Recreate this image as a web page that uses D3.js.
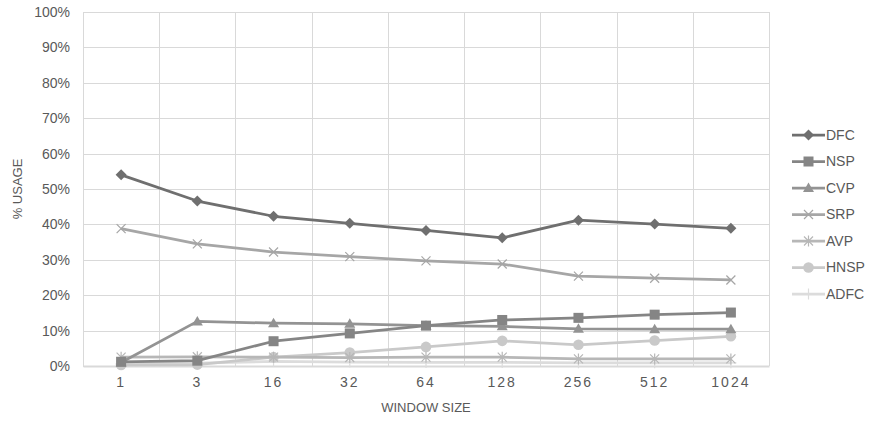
<!DOCTYPE html>
<html>
<head>
<meta charset="utf-8">
<script src="https://cdn.jsdelivr.net/npm/d3@7"></script>
<style>
  html, body { margin: 0; padding: 0; background: #fff; }
  svg { display: block; font-family: "Liberation Sans", Arial, sans-serif; }
</style>
</head>
<body>
<svg id="chart" width="874" height="423"></svg>
<script>
// Window sizes along the x axis
const windowSizes = ["1", "3", "16", "32", "64", "128", "256", "512", "1024"];
// Y axis ticks (percent)
const yTicks = [0, 10, 20, 30, 40, 50, 60, 70, 80, 90, 100];

// Usage per technique, in percent
const dfc  = [54.0, 46.6, 42.3, 40.3, 38.3, 36.2, 41.2, 40.1, 38.9];
const nsp  = [1.2, 1.5, 7.0, 9.2, 11.4, 13.0, 13.6, 14.5, 15.1];
const cvp  = [1.0, 12.6, 12.1, 11.9, 11.4, 11.2, 10.5, 10.4, 10.4];
const srp  = [38.8, 34.5, 32.2, 30.9, 29.7, 28.8, 25.4, 24.8, 24.3];
const avp  = [2.5, 2.6, 2.5, 2.4, 2.5, 2.5, 2.0, 2.0, 2.0];
const hnsp = [0.3, 0.4, 2.5, 3.8, 5.4, 7.1, 6.0, 7.2, 8.4];
const adfc = [0.6, 0.8, 1.3, 1.1, 1.0, 1.0, 0.9, 0.9, 0.9];

const seriesNames = ["DFC", "NSP", "CVP", "SRP", "AVP", "HNSP", "ADFC"];
const seriesValues = [dfc, nsp, cvp, srp, avp, hnsp, adfc];
const seriesColors = ["#6f6f6f", "#858585", "#939393", "#a6a6a6", "#b7b7b7", "#c9c9c9", "#dcdcdc"];
const seriesMarkers = ["diamond", "square", "triangle", "x", "asterisk", "circle", "plus"];

const svg = d3.select("#chart");
const margin = { left: 83, top: 12, right: 105, bottom: 57 };
const W = 874, H = 423;
const plotW = W - margin.left - margin.right;
const plotH = H - margin.top - margin.bottom;

const x = d3.scaleBand().domain(windowSizes).range([margin.left, margin.left + plotW]);
const y = d3.scaleLinear().domain([0, 100]).range([margin.top + plotH, margin.top]);

const gridColor = "#d9d9d9";
const textColor = "#595959";

// Horizontal gridlines
svg.append("g").selectAll("line").data(yTicks).join("line")
  .attr("x1", margin.left).attr("x2", margin.left + plotW)
  .attr("y1", d => Math.round(y(d)) + 0.5).attr("y2", d => Math.round(y(d)) + 0.5)
  .attr("stroke", gridColor).attr("stroke-width", 1);

// Vertical gridlines at category boundaries
const bounds = windowSizes.map(d => x(d)).concat([x(windowSizes[windowSizes.length - 1]) + x.bandwidth()]);
svg.append("g").selectAll("line").data(bounds).join("line")
  .attr("x1", d => Math.round(d) + 0.5).attr("x2", d => Math.round(d) + 0.5)
  .attr("y1", margin.top).attr("y2", margin.top + plotH)
  .attr("stroke", gridColor).attr("stroke-width", 1);

// Y axis
const yAxis = d3.axisLeft(y).tickValues(yTicks).tickFormat(d => d + "%").tickSize(0).tickPadding(13);
const gy = svg.append("g").attr("transform", `translate(${margin.left},0)`).call(yAxis);
gy.select(".domain").remove();
gy.selectAll("text").attr("fill", textColor).style("font-size", "14px");

// X axis
const xAxis = d3.axisBottom(x).tickSize(0).tickPadding(11);
const gx = svg.append("g").attr("transform", `translate(0,${margin.top + plotH})`).call(xAxis);
gx.select(".domain").attr("stroke", gridColor).attr("stroke-width", 2);
gx.selectAll("text").attr("fill", textColor).style("font-size", "14px").style("letter-spacing", "2px");

// Axis titles
svg.append("text").attr("x", margin.left + plotW / 2).attr("y", 412)
  .attr("text-anchor", "middle").attr("fill", textColor).style("font-size", "13px").text("WINDOW SIZE");
svg.append("text").attr("transform", `translate(22,${margin.top + plotH / 2}) rotate(-90)`)
  .attr("text-anchor", "middle").attr("fill", textColor).style("font-size", "13px").text("% USAGE");

// Marker shapes
function drawMarker(g, type, color) {
  const s = 4.5;
  if (type === "diamond") {
    g.append("path").attr("d", "M0,-5.5L5.5,0L0,5.5L-5.5,0Z").attr("fill", color);
  } else if (type === "square") {
    g.append("rect").attr("x", -5).attr("y", -5).attr("width", 10).attr("height", 10).attr("fill", color);
  } else if (type === "triangle") {
    g.append("path").attr("d", "M0,-5.5L5.5,4L-5.5,4Z").attr("fill", color);
  } else if (type === "circle") {
    g.append("circle").attr("r", 5.3).attr("fill", color);
  } else if (type === "x") {
    g.append("path").attr("d", `M${-s},${-s}L${s},${s}M${-s},${s}L${s},${-s}`)
      .attr("stroke", color).attr("stroke-width", 1.2).attr("fill", "none");
  } else if (type === "asterisk") {
    g.append("path").attr("d", `M${-s},${-s}L${s},${s}M${-s},${s}L${s},${-s}M0,${-s - 1}L0,${s + 1}`)
      .attr("stroke", color).attr("stroke-width", 1.2).attr("fill", "none");
  } else if (type === "plus") {
    g.append("path").attr("d", `M${-s - 1},0L${s + 1},0M0,${-s - 1}L0,${s + 1}`)
      .attr("stroke", color).attr("stroke-width", 1.2).attr("fill", "none");
  }
}

const line = d3.line()
  .x((d, i) => x(windowSizes[i]) + x.bandwidth() / 2)
  .y(d => y(d));

// Series, drawn back to front so DFC sits on top
for (let k = seriesNames.length - 1; k >= 0; k--) {
  const vals = seriesValues[k];
  const color = seriesColors[k];
  const g = svg.append("g").attr("class", "series-" + seriesNames[k]);
  g.append("path").attr("d", line(vals)).attr("fill", "none")
    .attr("stroke", color).attr("stroke-width", 2.75).attr("stroke-linejoin", "round");
  vals.forEach((v, i) => {
    const mg = g.append("g").attr("transform", `translate(${x(windowSizes[i]) + x.bandwidth() / 2},${y(v)})`);
    drawMarker(mg, seriesMarkers[k], color);
  });
}

// Legend
const legend = svg.append("g");
seriesNames.forEach((name, k) => {
  const ly = 135 + k * 26.5;
  const lg = legend.append("g").attr("transform", `translate(0,${ly})`);
  lg.append("line").attr("x1", 792).attr("x2", 825).attr("y1", 0).attr("y2", 0)
    .attr("stroke", seriesColors[k]).attr("stroke-width", 2.75);
  const mg = lg.append("g").attr("transform", "translate(808.5,0)");
  drawMarker(mg, seriesMarkers[k], seriesColors[k]);
  lg.append("text").attr("x", 826).attr("y", 0).attr("dy", "0.35em")
    .attr("fill", textColor).style("font-size", "14px").text(name);
});
</script>
</body>
</html>
